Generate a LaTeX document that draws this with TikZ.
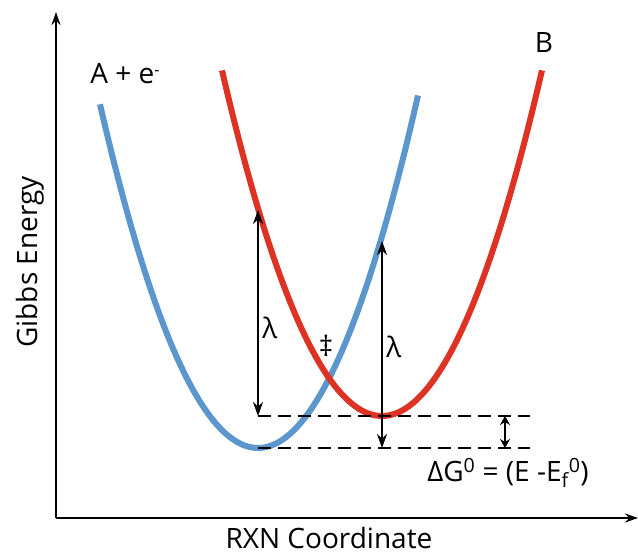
\documentclass[tikz,border=0pt]{standalone}
\usepackage{fontspec}
\setmainfont{Open Sans}
\usepackage{xcolor}
\usepackage{tikz}
\usetikzlibrary{positioning, arrows.meta, calc}
\definecolor{curveblue}{RGB}{91, 150, 205}
\definecolor{curvered}{RGB}{222, 50, 36}

\begin{document}
\begin{tikzpicture}[x=1pt, y=-1pt, font=\fontsize{28}{32}\selectfont,
  axis/.style={-{Stealth[length=13pt, width=9pt]}, line width=2.2pt},
  gap/.style={{Stealth[length=14pt, width=10pt]}-{Stealth[length=14pt, width=10pt]}, line width=2.2pt},
  level/.style={dash pattern=on 13pt off 7pt, line width=2.2pt}]

  \useasboundingbox (0,0) rectangle (638,554);

  % --- Eixos ---
  \coordinate (origin) at (56,518);
  \coordinate (ytip) at (56,12);
  \coordinate (xtip) at (638,518);
  \draw[axis] (origin) -- (ytip);
  \draw[axis] (origin) -- (xtip);
  \node (ylabel) [rotate=90, anchor=base, inner sep=0pt] at (37,262) {Gibbs Energy};
  \node (xlabel) [anchor=base, inner sep=0pt] at (329,548) {RXN Coordinate};

  % --- Parábolas ---
  \draw[curveblue, line width=6pt, domain=100:418, samples=80]
    plot (\x, {448 - 1.377*((\x-258)/10)^2});
  \draw[curvered, line width=6pt, domain=222:542, samples=80]
    plot (\x, {416 - 1.35*((\x-382)/10)^2});
  \node (lblA) at (125,74) {A + e\raisebox{0.55ex}{\fontsize{16}{16}\selectfont -}};
  \node (lblB) at (544,43) {B};

  % --- Níveis (tracejado) ---
  \coordinate (minA) at (258,448);
  \coordinate (minB) at (382,416);
  \coordinate (topL) at (258,416);
  \coordinate (endL) at (530,416);
  \coordinate (endA) at (530,448);
  \draw[level] (topL) -- (endL);
  \draw[level] (minA) -- (endA);

  % --- Setas lambda ---
  \coordinate (redL) at (258,210);
  \coordinate (botR) at (382,448);
  \coordinate (blueR) at (382,241);
  \draw[gap] (topL) -- (redL) node[pos=0.43, right=0pt] (lam1) {λ};
  \draw[gap] (botR) -- (blueR) node[pos=0.49, right=0pt] (lam2) {λ};
  \node (ts) at (326,346) {‡};

  % --- Diferença de energia ---
  \coordinate (dgtop) at (505,416);
  \coordinate (dgbot) at (505,448);
  \draw[{Stealth[length=9pt, width=10pt]}-{Stealth[length=9pt, width=10pt]}, line width=2.2pt] (dgtop) -- (dgbot);
  \node (dG) at (508,473) {ΔG\textsuperscript{0} = (E -E\textsubscript{f}\textsuperscript{0})};

\end{tikzpicture}
\end{document}
